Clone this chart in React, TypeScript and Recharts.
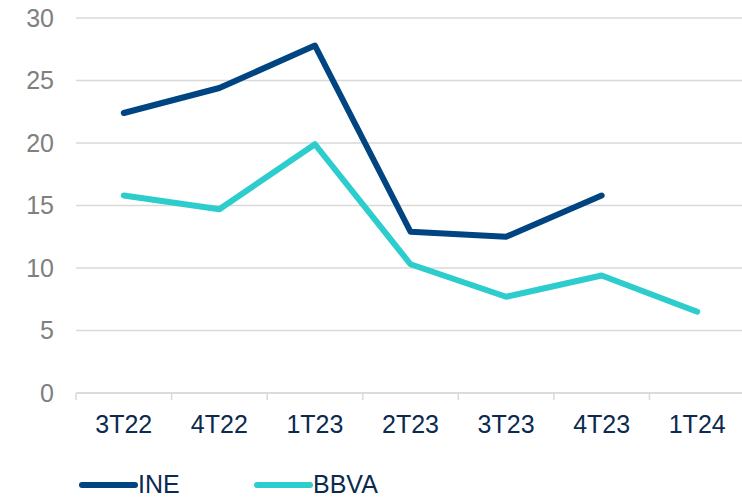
import React from 'react';
import { LineChart, Line, XAxis, YAxis, CartesianGrid, Legend } from 'recharts';

const quarters = ['3T22', '4T22', '1T23', '2T23', '3T23', '4T23', '1T24'];
const ineValues = [22.4, 24.4, 27.8, 12.9, 12.5, 15.8, null];
const bbvaValues = [15.8, 14.7, 19.9, 10.3, 7.7, 9.4, 6.5];
const yTicks = [0, 5, 10, 15, 20, 25, 30];

const data = quarters.map((q, i) => ({ q, INE: ineValues[i], BBVA: bbvaValues[i] }));

const W = 745;
const H = 499;
const PLOT_LEFT = 76;
const PLOT_W = W - PLOT_LEFT;
const TICK_SIZE = 7;
const TICK_MARGIN = 15;
const NAVY = '#004481';
const CYAN = '#2DCCCD';
const LABEL = '#0a2a4f';
const GRID = '#d9d9d9';
const FONT = '"Liberation Sans", Arial, sans-serif';

function QuarterTick(props: any) {
  const { x, y, payload } = props;
  const band = PLOT_W / quarters.length;
  const axisY = y - TICK_SIZE - TICK_MARGIN;
  const lx = x - band / 2;
  return (
    <g>
      <line x1={lx} x2={lx} y1={axisY} y2={axisY + TICK_SIZE} stroke={GRID} strokeWidth={1.5} />
      <text x={x} y={y} dy="0.71em" textAnchor="middle" fill={LABEL} fontSize={25} fontFamily={FONT}>
        {payload.value}
      </text>
    </g>
  );
}

function LegendContent() {
  const items = [
    { name: 'INE', color: NAVY, x: 82 },
    { name: 'BBVA', color: CYAN, x: 257 },
  ];
  return (
    <svg width={742} height={56} style={{ display: 'block' }}>
      {items.map((it) => (
        <g key={it.name}>
          <line x1={it.x} x2={it.x + 53} y1={42} y2={42} stroke={it.color} strokeWidth={6} strokeLinecap="round" />
          <text x={it.x + 56} y={50} fill={LABEL} fontSize={25} fontFamily={FONT}>
            {it.name}
          </text>
        </g>
      ))}
    </svg>
  );
}

export default function App() {
  return (
    <div style={{ position: 'absolute', left: 0, top: 0, width: 742, height: H, overflow: 'hidden', background: '#fff' }}>
      <LineChart width={W} height={H} data={data} margin={{ top: 18, right: 0, bottom: 0, left: 0 }}>
        <CartesianGrid vertical={false} stroke={GRID} strokeWidth={1.5} />
        <XAxis
          dataKey="q"
          scale="band"
          height={50}
          tickLine={false}
          tickSize={TICK_SIZE}
          tickMargin={TICK_MARGIN}
          axisLine={{ stroke: GRID, strokeWidth: 1.5 }}
          tick={<QuarterTick />}
          interval={0}
        />
        <YAxis
          width={PLOT_LEFT}
          domain={[0, 30]}
          ticks={yTicks}
          axisLine={false}
          tickLine={false}
          tickSize={0}
          tickMargin={22}
          tick={{ fill: '#808080', fontSize: 25, fontFamily: FONT }}
        />
        <Legend
          verticalAlign="bottom"
          height={56}
          content={<LegendContent />}
          wrapperStyle={{ left: 0, bottom: 0, width: 742, height: 56 }}
        />
        <Line
          type="linear"
          dataKey="INE"
          stroke={NAVY}
          strokeWidth={6}
          strokeLinecap="round"
          strokeLinejoin="round"
          dot={false}
          activeDot={false}
          isAnimationActive={false}
        />
        <Line
          type="linear"
          dataKey="BBVA"
          stroke={CYAN}
          strokeWidth={6}
          strokeLinecap="round"
          strokeLinejoin="round"
          dot={false}
          activeDot={false}
          isAnimationActive={false}
        />
      </LineChart>
    </div>
  );
}
